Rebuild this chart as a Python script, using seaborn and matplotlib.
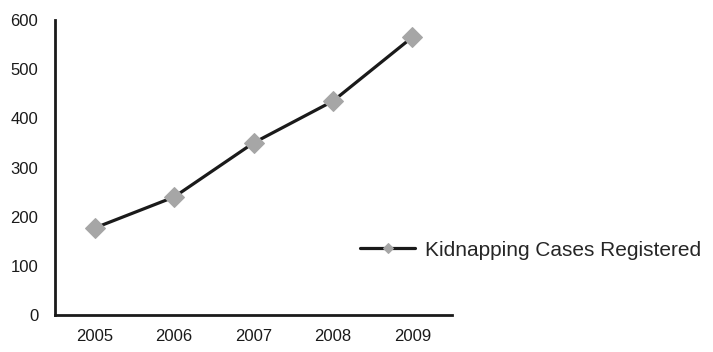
import matplotlib
matplotlib.use('Agg')
import matplotlib.pyplot as plt
import pandas as pd
import seaborn as sns

# data
years = ['2005', '2006', '2007', '2008', '2009']
cases = [177, 240, 350, 435, 565]
series_name = 'Kidnapping Cases Registered'

df = pd.DataFrame({'year': years, 'cases': cases})

sns.set_style('white')
plt.rcParams['font.family'] = ['Liberation Sans', 'DejaVu Sans']

fig = plt.figure(figsize=(7.13, 3.52), dpi=100)
ax = fig.add_axes([55 / 713, 1 - 315 / 352, 397 / 713, 295 / 352])

sns.lineplot(data=df, x='year', y='cases', ax=ax, color='#1a1a1a', linewidth=2.3,
             marker='D', markersize=10, markerfacecolor='#a6a6a6',
             markeredgecolor='#a6a6a6', label=series_name)

ax.set_xlim(-0.5, 4.5)
ax.set_ylim(0, 600)
ax.set_yticks(range(0, 601, 100))
ax.set_xlabel('')
ax.set_ylabel('')

for side in ['top', 'right']:
    ax.spines[side].set_visible(False)
for side in ['left', 'bottom']:
    ax.spines[side].set_color('#1a1a1a')
    ax.spines[side].set_linewidth(2)

ax.tick_params(axis='y', length=0, pad=12, labelsize=12, colors='#1a1a1a')
ax.tick_params(axis='x', length=0, pad=10, labelsize=12, colors='#1a1a1a')

ax.legend(loc='center left', bbox_to_anchor=(360 / 713, 1 - 250 / 352),
          bbox_transform=fig.transFigure, frameon=False, fontsize=15,
          handlelength=2.65, handletextpad=0.45, borderaxespad=0,
          borderpad=0, markerscale=0.5)

fig.savefig('out.png', dpi=100)
